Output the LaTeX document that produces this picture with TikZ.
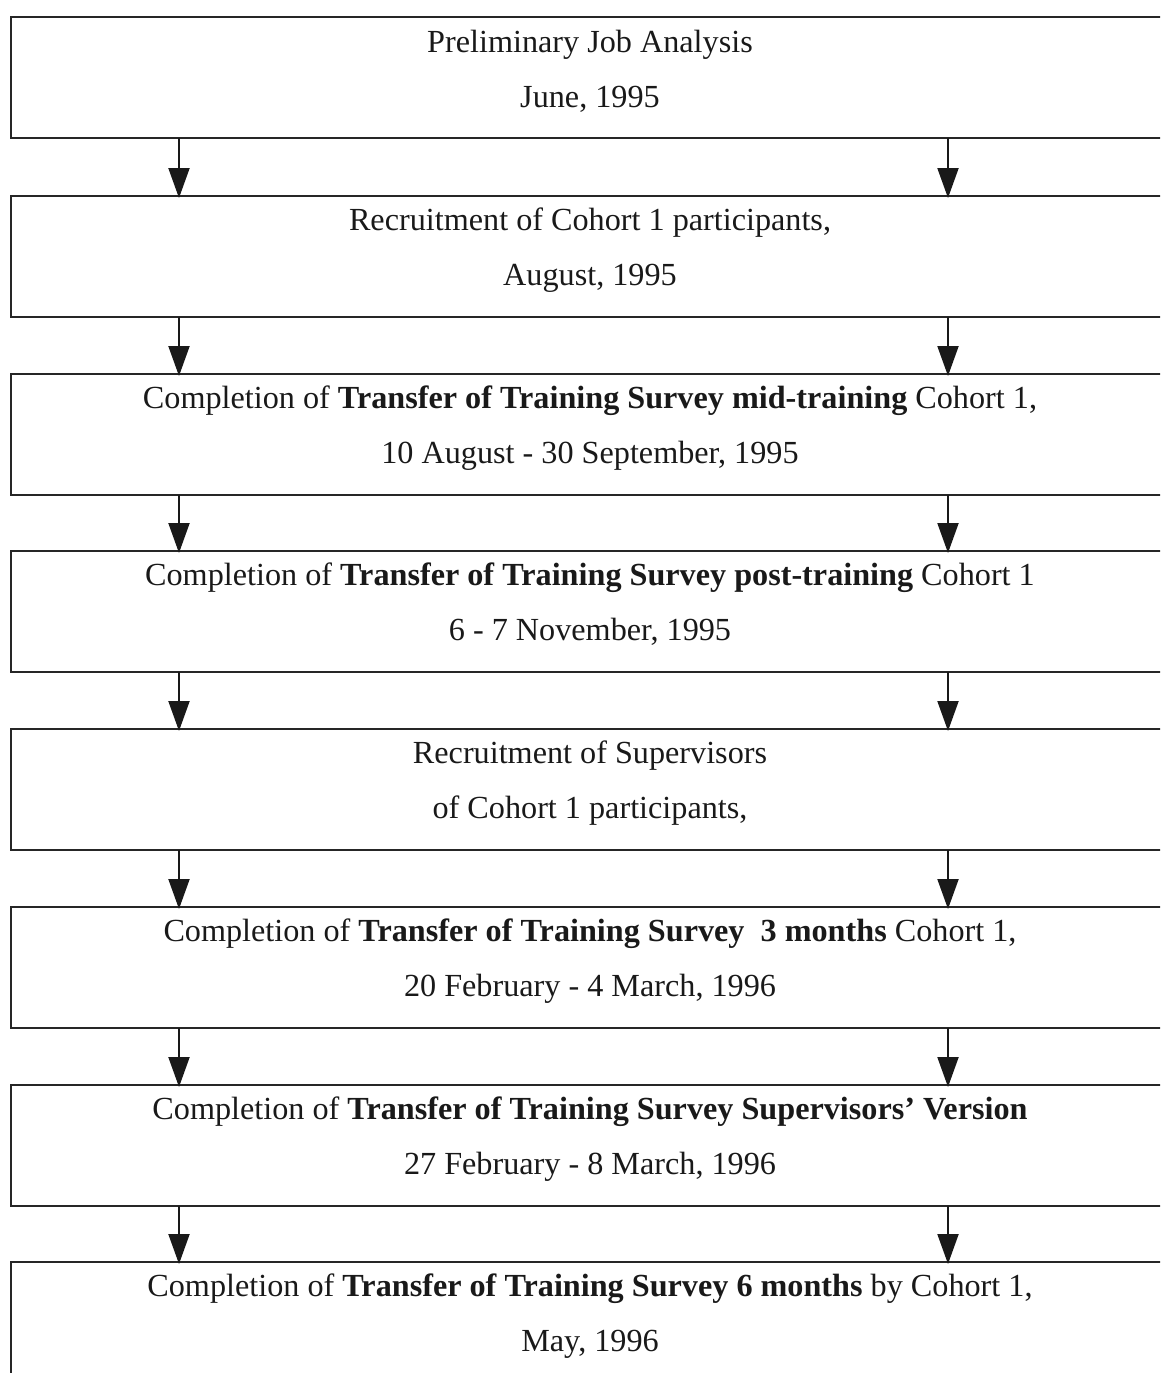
\documentclass[tikz,border=0pt]{standalone}
\usepackage{fontspec}
\setmainfont{Liberation Serif}
\usetikzlibrary{arrows.meta,calc}
\begin{document}
\begin{tikzpicture}[x=1pt,y=-1pt,
  box/.style={draw=black!85, line width=2.4pt, minimum width=1158pt, minimum height=121pt,
    inner sep=0pt, outer sep=0pt, anchor=north west},
  txt/.style={anchor=base, inner sep=0pt, text=black!90, font=\fontsize{32.2}{38}\selectfont},
  arr/.style={draw=black!90, line width=2pt, -{Triangle[width=21pt,length=30pt]}, shorten >=-2pt}]
\useasboundingbox (0,0) rectangle (1160,1373);
\clip (0,0) rectangle (1160,1373);
\coordinate (L) at (179,0);
\coordinate (R) at (948,0);
% boxes
\node[box] (b1) at (11,17) {};
\node[box] (b2) at (11,196) {};
\node[box] (b3) at (11,374) {};
\node[box] (b4) at (11,551) {};
\node[box] (b5) at (11,729) {};
\node[box] (b6) at (11,907) {};
\node[box] (b7) at (11,1085) {};
\node[box] (b8) at (11,1262) {};
% texts
\node[txt] (t1a) at ($(b1.north)+(0,35)$) {Preliminary Job Analysis};
\node[txt] (t1b) at ($(b1.north)+(0,90)$) {June, 1995};
\node[txt] (t2a) at ($(b2.north)+(0,34)$) {Recruitment of Cohort 1 participants,};
\node[txt] (t2b) at ($(b2.north)+(0,89)$) {August, 1995};
\node[txt] (t3a) at ($(b3.north)+(0,34)$) {Completion of \textbf{Transfer of Training Survey mid-training} Cohort 1,};
\node[txt] (t3b) at ($(b3.north)+(0,89)$) {10 August - 30 September, 1995};
\node[txt] (t4a) at ($(b4.north)+(0,34)$) {Completion of \textbf{Transfer of Training Survey post-training} Cohort 1};
\node[txt] (t4b) at ($(b4.north)+(0,89)$) {6 - 7 November, 1995};
\node[txt] (t5a) at ($(b5.north)+(0,34)$) {Recruitment of Supervisors};
\node[txt] (t5b) at ($(b5.north)+(0,89)$) {of Cohort 1 participants,};
\node[txt] (t6a) at ($(b6.north)+(0,34)$) {Completion of \textbf{Transfer of Training Survey\ \ 3 months} Cohort 1,};
\node[txt] (t6b) at ($(b6.north)+(0,89)$) {20 February - 4 March, 1996};
\node[txt] (t7a) at ($(b7.north)+(0,34)$) {Completion of \textbf{Transfer of Training Survey Supervisors’ Version}};
\node[txt] (t7b) at ($(b7.north)+(0,89)$) {27 February - 8 March, 1996};
\node[txt] (t8a) at ($(b8.north)+(0,34)$) {Completion of \textbf{Transfer of Training Survey 6 months} by Cohort 1,};
\node[txt] (t8b) at ($(b8.north)+(0,89)$) {May, 1996};
% arrows
\foreach \a/\b in {b1/b2,b2/b3,b3/b4,b4/b5,b5/b6,b6/b7,b7/b8}{
  \draw[arr] (\a.south -| L) -- (\b.north -| L);
  \draw[arr] (\a.south -| R) -- (\b.north -| R);
}
\end{tikzpicture}
\end{document}
